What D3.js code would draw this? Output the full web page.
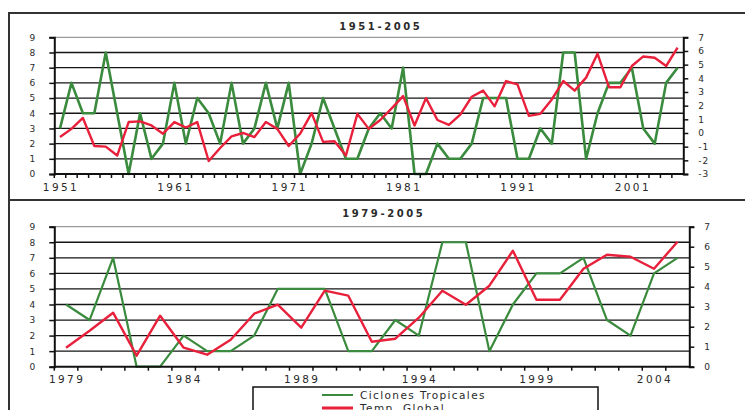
<!DOCTYPE html>
<html>
<head>
<meta charset="utf-8">
<title>Ciclones Tropicales y Temp. Global</title>
<script src="https://d3js.org/d3.v7.min.js"></script>
<style>
  body { margin: 0; background: #fff; }
  text { font-family: "DejaVu Sans", sans-serif; fill: #2a2a2a; }
</style>
</head>
<body>
<script>
// categorias (años)
const years = d3.range(1951, 2006);

// Ciclones Tropicales (eje izquierdo)
const ciclones = [
  3, 6, 4, 4, 8, 4, 0, 4, 1, 2,
  6, 2, 5, 4, 2, 6, 2, 3, 6, 3,
  6, 0, 2, 5, 3, 1, 1, 3, 4, 3,
  7, 0, 0, 2, 1, 1, 2, 5, 5, 5,
  1, 1, 3, 2, 8, 8, 1, 4, 6, 6,
  7, 3, 2, 6, 7
];

// Temp. Global (eje derecho)
const tempGlobal = [
  -0.3, 0.3, 1.1, -0.95, -1.0, -1.65, 0.8, 0.85, 0.55, -0.05,
  0.8, 0.4, 0.8, -2.05, -1.1, -0.25, 0.0, -0.3, 0.8, 0.3,
  -0.95, -0.05, 1.45, -0.65, -0.6, -1.65, 1.4, 0.3, 0.95, 1.8,
  2.7, 0.55, 2.55, 0.95, 0.6, 1.35, 2.65, 3.1, 1.95, 3.8,
  3.55, 1.25, 1.4, 2.45, 3.8, 3.1, 4.05, 5.8, 3.35, 3.35,
  4.9, 5.6, 5.5, 4.9, 6.25
];

const leftTicks = [0, 1, 2, 3, 4, 5, 6, 7, 8, 9];
const rightTicksTop = [-3, -2, -1, 0, 1, 2, 3, 4, 5, 6, 7];
const rightTicksBottom = [0, 1, 2, 3, 4, 5, 6, 7];
const labelsTop = [1951, 1961, 1971, 1981, 1991, 2001];
const labelsBottom = [1979, 1984, 1989, 1994, 1999, 2004];
const legendNames = ["Ciclones Tropicales", "Temp. Global"];

const width = 745, height = 410;
const green = "#3a8b3e", red = "#e8203c";

const svg = d3.select("body").append("svg")
  .attr("width", width)
  .attr("height", height);

// marcos
svg.append("rect")
  .attr("x", 9).attr("y", 13).attr("width", 800).attr("height", 187)
  .attr("fill", "none").attr("stroke", "#333").attr("stroke-width", 2);
svg.append("rect")
  .attr("x", 9).attr("y", 200).attr("width", 800).attr("height", 300)
  .attr("fill", "none").attr("stroke", "#333").attr("stroke-width", 2);

function panel(p) {
  const idx0 = years.indexOf(p.from);
  const yrs = years.slice(idx0);
  const cic = ciclones.slice(idx0);
  const tmp = tempGlobal.slice(idx0);

  const x = d3.scaleBand().domain(yrs).range([p.left, p.right]).padding(0);
  const yL = d3.scaleLinear().domain([0, 9]).range([p.bottom, p.top]);
  const yR = d3.scaleLinear().domain(p.rightDomain).range([p.bottom, p.top]);
  const cx = d => x(d) + x.bandwidth() / 2;

  const g = svg.append("g");

  // titulo
  g.append("text")
    .attr("x", (p.left + p.right) / 2 + 12)
    .attr("y", p.titleY)
    .attr("text-anchor", "middle")
    .style("font-size", "10px")
    .style("font-weight", "bold")
    .style("letter-spacing", "2.6px")
    .text(p.title);

  // lineas de division
  g.selectAll("line.grid")
    .data(leftTicks.filter(d => d > 0)).join("line")
    .attr("class", "grid")
    .attr("x1", p.left).attr("x2", p.right)
    .attr("y1", d => yL(d)).attr("y2", d => yL(d))
    .attr("stroke", d => d === 9 ? "#9a9a9a" : "#151515")
    .attr("stroke-width", 1.3);

  // series
  g.append("path")
    .datum(cic)
    .attr("fill", "none")
    .attr("stroke", green)
    .attr("stroke-width", p.greenWidth)
    .attr("stroke-linejoin", "round")
    .attr("d", d3.line().x((d, i) => cx(yrs[i])).y(d => yL(d)));

  g.append("path")
    .datum(tmp)
    .attr("fill", "none")
    .attr("stroke", red)
    .attr("stroke-width", 2.4)
    .attr("stroke-linejoin", "round")
    .attr("d", d3.line().x((d, i) => cx(yrs[i])).y(d => yR(d)));

  // eje izquierdo
  const axL = g.append("g")
    .attr("transform", `translate(${p.left},0)`)
    .call(d3.axisLeft(yL).tickValues(leftTicks).tickSize(5).tickPadding(13).tickFormat(d => String(d)));
  // eje derecho
  const axR = g.append("g")
    .attr("transform", `translate(${p.right},0)`)
    .call(d3.axisRight(yR).tickValues(p.rightTicks).tickSize(5).tickPadding(10).tickFormat(d => String(d)));
  [axL, axR].forEach(a => {
    a.select(".domain").attr("stroke", "#111").attr("stroke-width", 2);
    a.selectAll(".tick line").attr("stroke", "#111").attr("stroke-width", 1.5);
    a.selectAll(".tick text")
      .style("font-size", "9px")
      .style("letter-spacing", "1px")
      .attr("fill", "#2a2a2a")
      .attr("font-family", null);
  });

  // eje de categorias
  g.append("line")
    .attr("x1", p.left).attr("x2", p.right)
    .attr("y1", p.bottom).attr("y2", p.bottom)
    .attr("stroke", "#111").attr("stroke-width", 2);
  g.selectAll("line.xt")
    .data(yrs).join("line")
    .attr("class", "xt")
    .attr("x1", d => x(d)).attr("x2", d => x(d))
    .attr("y1", p.bottom).attr("y2", p.bottom + 4)
    .attr("stroke", "#111").attr("stroke-width", 1.5);
  g.selectAll("text.xl")
    .data(p.labels).join("text")
    .attr("class", "xl")
    .attr("x", d => cx(d) + 1)
    .attr("y", p.bottom + 16.5)
    .attr("text-anchor", "middle")
    .style("font-size", "10.5px")
    .style("letter-spacing", "2.4px")
    .text(d => d);
}

panel({
  from: 1951, title: "1951-2005", titleY: 30,
  left: 54.3, right: 683.3, top: 37.3, bottom: 174,
  rightDomain: [-3, 7], rightTicks: rightTicksTop,
  labels: labelsTop, greenWidth: 2.6
});

panel({
  from: 1979, title: "1979-2005", titleY: 217,
  left: 54.3, right: 689.3, top: 226.7, bottom: 366.7,
  rightDomain: [0, 7], rightTicks: rightTicksBottom,
  labels: labelsBottom, greenWidth: 2.2
});

// leyenda
const lg = svg.append("g");
lg.append("rect")
  .attr("x", 253).attr("y", 387).attr("width", 345).attr("height", 60)
  .attr("fill", "#fff").attr("stroke", "#111").attr("stroke-width", 1.5);
lg.selectAll("line.key")
  .data(legendNames).join("line")
  .attr("class", "key")
  .attr("x1", 322).attr("x2", 353)
  .attr("y1", (d, i) => 395 + i * 13).attr("y2", (d, i) => 395 + i * 13)
  .attr("stroke", (d, i) => i === 0 ? green : red)
  .attr("stroke-width", (d, i) => i === 0 ? 2 : 3);
lg.selectAll("text.key")
  .data(legendNames).join("text")
  .attr("class", "key")
  .attr("x", 360)
  .attr("y", (d, i) => 399 + i * 13)
  .style("font-size", "10.5px")
  .style("letter-spacing", "1.4px")
  .text(d => d);
</script>
</body>
</html>
